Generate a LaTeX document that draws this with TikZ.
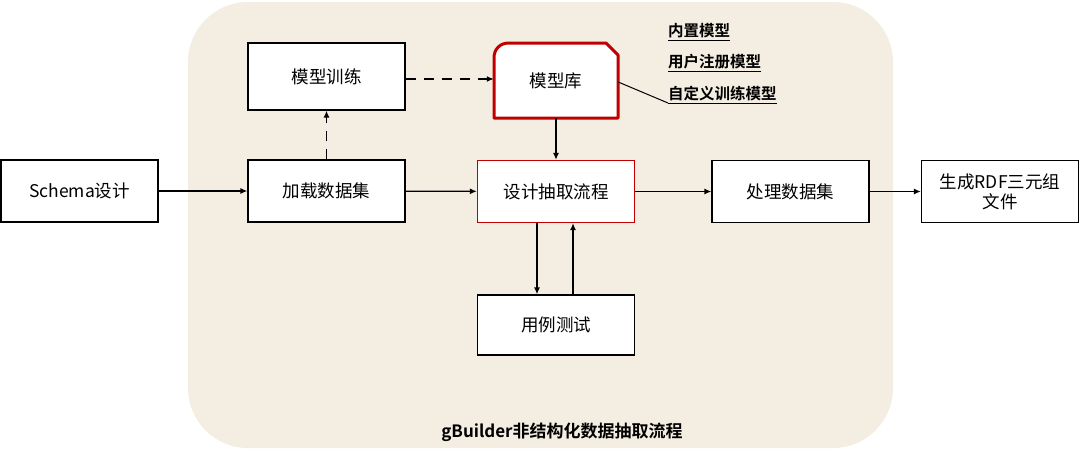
\documentclass[tikz,border=0pt]{standalone}
\usepackage{fontspec}
\setmainfont{Noto Sans CJK SC}[BoldFont={Noto Sans CJK SC Bold}]
\usetikzlibrary{arrows.meta}
\definecolor{bgbeige}{HTML}{F3EDE2}
\definecolor{dred}{HTML}{C00000}
\begin{document}
\begin{tikzpicture}[x=1pt,y=-1pt,
  box/.style={draw=black,line width=1.3pt,fill=white,minimum width=157pt,minimum height=62pt,inner sep=0pt,font=\fontsize{17.5}{20}\selectfont,align=center},
  arr/.style={line width=1.3pt,-{Latex[length=7pt,width=6pt]}},
  darr/.style={arr,dash pattern=on 10pt off 8pt},
  lab/.style={anchor=west,font=\fontsize{15.5}{17}\selectfont\bfseries,inner sep=0pt}]
\useasboundingbox (0,0) rectangle (1080,451);
\fill[bgbeige,rounded corners=60pt] (188,2) rectangle (893,448);
\node[box] (schema) at (79.5,191) {Schema设计};
\node[box] (load) at (326.5,191) {加载数据集};
\node[box,minimum height=67pt] (train) at (326.5,76.5) {模型训练};
\node[box,draw=dred] (design) at (556,191.5) {设计抽取流程};
\node[box] (proc) at (790.5,191.5) {处理数据集};
\node[box] (rdf) at (1000,191.5) {生成RDF三元组\\文件};
\node[box,minimum height=60pt] (test) at (556,325) {用例测试};
\draw[dred,line width=3pt,fill=white,line join=round] (494,118) -- (494,58) .. controls (494,49) and (500,43) .. (509,43) -- (606,43) -- (618,55) -- (618,118) -- cycle;
\node[inner sep=0pt,minimum width=124pt,minimum height=75pt,font=\fontsize{17.5}{20}\selectfont] (lib) at (556,80.5) {模型库};
\node[lab] (m1) at (668,32) {\underline{内置模型}};
\node[lab] (m2) at (668,63) {\underline{用户注册模型}};
\node[lab] (m3) at (668,95) {\underline{自定义训练模型}};
\coordinate (lk) at (668,103);
\draw[line width=1pt] (lib.east |- 0,82) -- (lk);
\node[font=\fontsize{17}{20}\selectfont\bfseries] (title) at (562,432) {gBuilder非结构化数据抽取流程};
\draw[arr] (schema) -- (load);
\draw[arr] (load) -- (design);
\draw[arr] (design) -- (proc);
\draw[arr] (proc) -- (rdf);
\draw[darr] (load) -- (train);
\draw[darr] (train.east |- 0,79) -- (lib.west |- 0,79);
\draw[arr] (lib.south) -- (design.north);
\draw[arr] (design.south -| 537,0) -- (test.north -| 537,0);
\draw[arr] (test.north -| 573,0) -- (design.south -| 573,0);
\end{tikzpicture}
\end{document}
